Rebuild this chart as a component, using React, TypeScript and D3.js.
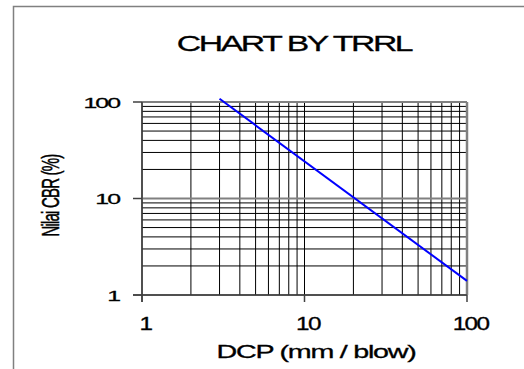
import React from 'react';
import * as d3 from 'd3';

// values
const dcpValues = [3, 100];
const cbrValues = [108, 1.4];
const majorTicks = [1, 10, 100];
const tickLabels = ['1', '10', '100'];

const App = () => {
  const W = 524;
  const H = 369;
  const plot = { left: 142, right: 467, top: 102, bottom: 295 };

  const xScale = d3.scaleLog().domain([1, 100]).range([plot.left, plot.right]);
  const yScale = d3.scaleLog().domain([1, 100]).range([plot.bottom, plot.top]);

  const gridTicks = xScale.ticks();

  const line = d3.line<number>()
    .x((d, i) => xScale(dcpValues[i]))
    .y(d => yScale(d));

  const font = 'Liberation Sans, Arial, sans-serif';

  // stretched text like the original picture
  const stretched = (x: number, y: number, sx: number, text: string, size: number, anchor: string, ls: number, key?: string) => (
    <text
      key={key}
      transform={`translate(${x},${y}) scale(${sx},1)`}
      textAnchor={anchor}
      fontFamily={font}
      fontSize={size}
      letterSpacing={ls}
      stroke="#000"
      strokeWidth={0.3}
      fill="#000"
    >
      {text}
    </text>
  );

  return (
    <svg width={W} height={H} style={{ position: 'absolute', left: 0, top: 0, background: '#fff' }}>
      {/* outer frame */}
      <rect x={13.5} y={6.5} width={W + 20} height={H + 20} fill="none" stroke="#808080" strokeWidth={1.5} />

      {stretched(294, 51, 1.5, 'CHART BY TRRL', 22.5, 'middle', -1.6)}

      {/* grid */}
      <g>
        {gridTicks.map((t, i) => (
          <line key={'v' + i} x1={xScale(t)} x2={xScale(t)} y1={plot.top} y2={plot.bottom} stroke="#000" strokeWidth={1} />
        ))}
        {gridTicks.map((t, i) => (
          <line key={'h' + i} x1={plot.left} x2={plot.right} y1={yScale(t)} y2={yScale(t)}
            stroke={t === 10 ? '#808080' : '#000'} strokeWidth={t === 10 ? 2 : 1} />
        ))}
      </g>

      {/* plot border */}
      <line x1={plot.left} x2={plot.right} y1={plot.top} y2={plot.top} stroke="#808080" strokeWidth={2} />
      <line x1={plot.right} x2={plot.right} y1={plot.top} y2={plot.bottom} stroke="#808080" strokeWidth={2.5} />

      {/* axes */}
      <line x1={plot.left} x2={plot.left} y1={plot.top} y2={plot.bottom + 7} stroke="#404040" strokeWidth={1.5} />
      <line x1={plot.left - 9} x2={plot.right} y1={plot.bottom} y2={plot.bottom} stroke="#404040" strokeWidth={1.5} />
      {majorTicks.map((t, i) => (
        <g key={'tk' + i}>
          <line x1={plot.left - 9} x2={plot.left} y1={yScale(t)} y2={yScale(t)} stroke="#404040" strokeWidth={1.5} />
          <line x1={xScale(t)} x2={xScale(t)} y1={plot.bottom} y2={plot.bottom + 7} stroke="#404040" strokeWidth={1.5} />
        </g>
      ))}

      {/* tick labels */}
      {majorTicks.map((t, i) => stretched(119, yScale(t) + 5.5, 1.6, tickLabels[i], 15.5, 'end', -1.2, 'yl' + i))}
      {majorTicks.map((t, i) => stretched(xScale(t) + 3.5, 330, 1.35, tickLabels[i], 18, 'middle', -1.2, 'xl' + i))}

      {/* data line */}
      <path d={line(cbrValues) || ''} fill="none" stroke="#0000ff" strokeWidth={2} />

      {/* axis titles */}
      {stretched(316, 358, 1.55, 'DCP (mm / blow)', 18.5, 'middle', -0.8)}
      <text
        transform="translate(59,195.5) scale(1.6,1) rotate(-90)"
        textAnchor="middle"
        fontFamily={font}
        fontSize={15}
        letterSpacing={-0.8}
        stroke="#000"
        strokeWidth={0.3}
        fill="#000"
      >
        Nilai CBR (%)
      </text>
    </svg>
  );
};

export default App;
